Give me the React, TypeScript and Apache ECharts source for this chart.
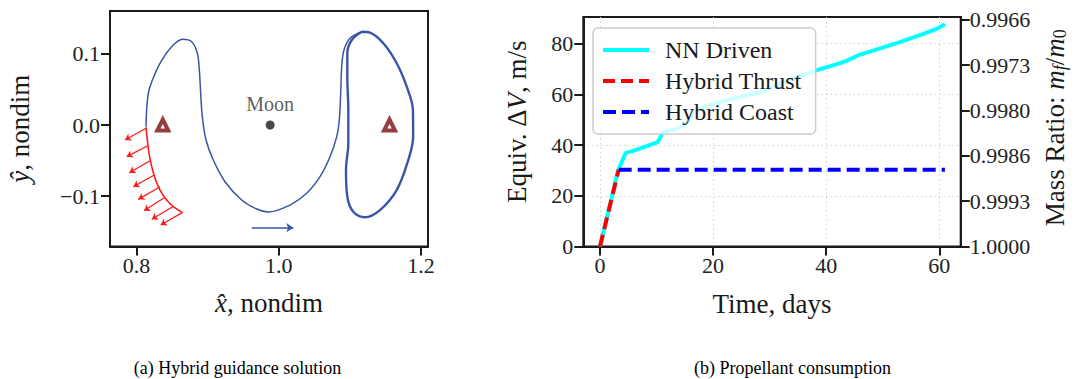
import React, { useEffect, useRef } from 'react';
import * as echarts from 'echarts';

const FONT = 'Liberation Serif';
const INK = '#1a1a1a';
const ORBIT = '#3a55a6';

// ---------- Panel (a): hybrid guidance solution (nondimensional) ----------
const transferX = [0.8134, 0.8143, 0.8166, 0.8214, 0.8330, 0.8495, 0.8649, 0.8776, 0.8855, 0.8883, 0.8902, 0.8925, 0.8977, 0.9079, 0.9244, 0.9479, 0.9689, 0.9852, 1.0157, 1.0392, 1.0579, 1.0720, 1.0814, 1.0850, 1.0870, 1.0884, 1.0916, 1.1001, 1.1165];
const transferY = [-0.0024, 0.0211, 0.0445, 0.0608, 0.0867, 0.1100, 0.1204, 0.1170, 0.1007, 0.0772, 0.0445, 0.0117, -0.0211, -0.0492, -0.0796, -0.1053, -0.1180, -0.1222, -0.1124, -0.0959, -0.0726, -0.0445, -0.0164, 0.0070, 0.0445, 0.0819, 0.1053, 0.1218, 0.1310];
const loopX = [1.1165, 1.1282, 1.1469, 1.1657, 1.1798, 1.1885, 1.1888, 1.1805, 1.1657, 1.1422, 1.1211, 1.1047, 1.0963, 1.0944, 1.0977, 1.0977, 1.0963, 1.0963, 1.1025, 1.1165];
const loopY = [0.1310, 0.1296, 0.1147, 0.0867, 0.0538, 0.0211, -0.0164, -0.0538, -0.0913, -0.1194, -0.1296, -0.1218, -0.1007, -0.0632, -0.0257, 0.0211, 0.0678, 0.1007, 0.1194, 0.1310];
const thrustArcX = [0.8134, 0.8152, 0.8176, 0.8214, 0.8260, 0.8330, 0.8424, 0.8517, 0.8640];
const thrustArcY = [-0.0033, -0.0211, -0.0398, -0.0585, -0.0749, -0.0913, -0.1053, -0.1147, -0.1226];
const arrowTailX = [0.8134, 0.8152, 0.8190, 0.8250, 0.8330, 0.8401, 0.8509, 0.8649];
const arrowTailY = [-0.0046, -0.0295, -0.0501, -0.0702, -0.0867, -0.1015, -0.1147, -0.1226];
const arrowHeadX = [0.7838, 0.7862, 0.7899, 0.7955, 0.8025, 0.8105, 0.8214, 0.8340];
const arrowHeadY = [-0.0211, -0.0445, -0.0670, -0.0867, -0.1044, -0.1204, -0.1324, -0.1404];
const lagrangeX = [0.8369, 1.1556];
const lagrangeY = [0, 0];
const moonX = 0.98785;
const moonY = 0;
const dirArrowX = [0.9619, 1.0204];
const dirArrowY = [-0.1442, -0.1442];
const leftXTicks = [0.8, 1.0, 1.2];
const leftYTicks = [-0.1, 0, 0.1];
const leftYLabels = ['\u22120.1', '0.0', '0.1'];

// ---------- Panel (b): propellant consumption ----------
const nnTime = [0, 3.2, 4.5, 6.4, 10.2, 11.2, 13.5, 15.3, 16.4, 18.3, 23, 28.3, 33, 38, 41.8, 43.6, 45.9, 51.2, 53, 57.7, 59.5, 61];
const nnDv = [0, 30, 36.8, 38.1, 41.2, 45.2, 46.3, 48.5, 52.3, 55.0, 58, 60.8, 65.3, 69.3, 71.8, 73.2, 75.6, 79.3, 80.6, 84.2, 85.8, 87.6];
const thrustTime = [0, 3.3];
const thrustDv = [0, 30.3];
const coastTime = [3.3, 61];
const coastDv = [30.3, 30.3];
const timeTicks = [0, 20, 40, 60];
const dvTicks = [0, 20, 40, 60, 80];
const massRatioLabels = ['1.0000', '0.9993', '0.9986', '0.9980', '0.9973', '0.9966'];
const massRatioTickDv = [0, 17.87, 35.74, 53.61, 71.48, 89.35];

const zip = (xs: number[], ys: number[]) => xs.map((x, i) => [x, ys[i]]);

const tickLabel = { fontFamily: FONT, fontSize: 22, color: '#222' };
const nameStyle = (extra: any = {}) => ({
  fontFamily: FONT,
  fontSize: 27,
  color: INK,
  rich: {
    i: { fontFamily: FONT, fontSize: 27, fontStyle: 'italic', color: INK },
    sub: { fontFamily: FONT, fontSize: 18, fontStyle: 'italic', color: INK, verticalAlign: 'bottom' },
    sub0: { fontFamily: FONT, fontSize: 18, color: INK, verticalAlign: 'bottom' },
  },
  ...extra,
});
const axisLine = { show: true, onZero: false, lineStyle: { color: INK, width: 2 } };
const tick = (vals: number[]) => ({ show: true, length: 9, inside: false, customValues: vals, lineStyle: { color: INK, width: 2 } });
const dotted = { show: true, lineStyle: { type: [1.5, 3], color: '#cfcfcf', width: 1 } };

function buildOption(): any {
  return {
    animation: false,
    textStyle: { fontFamily: FONT },
    grid: [
      { left: 110, top: 11, width: 318, height: 235.5, show: true, borderColor: INK, borderWidth: 2, backgroundColor: 'transparent', containLabel: false, outerBoundsMode: 'none' },
      { left: 583.3, top: 17, width: 377.4, height: 229.5, show: true, borderColor: INK, borderWidth: 2, backgroundColor: 'transparent', containLabel: false, outerBoundsMode: 'none' },
    ],
    xAxis: [
      {
        type: 'value', gridIndex: 0, min: 0.76275, max: 1.20969,
        axisLine, axisTick: tick(leftXTicks),
        axisLabel: { ...tickLabel, margin: 8, customValues: leftXTicks, formatter: (v: number) => v.toFixed(1) },
        splitLine: { show: false },
        name: '{i|x\u0302}, nondim', nameLocation: 'middle', nameGap: 43, nameTextStyle: nameStyle(),
      },
      {
        type: 'value', gridIndex: 1, min: -2.953, max: 63.79,
        axisLine, axisTick: tick(timeTicks),
        axisLabel: { ...tickLabel, margin: 8, customValues: timeTicks, formatter: (v: number) => String(v) },
        splitLine: dotted,
        name: 'Time, days', nameLocation: 'middle', nameGap: 44, nameTextStyle: nameStyle(),
      },
    ],
    yAxis: [
      {
        type: 'value', gridIndex: 0, min: -0.1706, max: 0.1601,
        axisLine, axisTick: tick(leftYTicks),
        axisLabel: {
          ...tickLabel, margin: 10, customValues: leftYTicks,
          formatter: (v: number) => leftYLabels[leftYTicks.findIndex((t) => Math.abs(t - v) < 1e-6)] ?? '',
        },
        splitLine: { show: false },
        name: '{i|y\u0302}, nondim', nameLocation: 'middle', nameGap: 77, nameRotate: 90, nameTextStyle: nameStyle(),
      },
      {
        type: 'value', gridIndex: 1, min: 0, max: 90.5,
        axisLine, axisTick: tick(dvTicks),
        axisLabel: { ...tickLabel, margin: 10, customValues: dvTicks, formatter: (v: number) => String(v) },
        splitLine: dotted,
        name: 'Equiv. \u0394{i|V}, m/s', nameLocation: 'middle', nameGap: 53, nameRotate: 90,
        nameTextStyle: nameStyle({ padding: [0, 0, 0, 20] }),
      },
      {
        type: 'value', gridIndex: 1, position: 'right', min: 0, max: 90.5,
        axisLine, axisTick: tick(massRatioTickDv),
        axisLabel: {
          ...tickLabel, margin: 9, customValues: massRatioTickDv,
          formatter: (v: number) => {
            let best = 0;
            massRatioTickDv.forEach((d, i) => { if (Math.abs(d - v) < Math.abs(massRatioTickDv[best] - v)) best = i; });
            return massRatioLabels[best];
          },
        },
        splitLine: { show: false },
        name: 'Mass Ratio: {i|m}{sub|f}/{i|m}{sub0|0}', nameLocation: 'middle', nameGap: 81, nameRotate: 90,
        nameTextStyle: nameStyle({ padding: [0, 0, 0, 8] }),
      },
    ],
    legend: {
      data: ['NN Driven', 'Hybrid Thrust', 'Hybrid Coast'],
      orient: 'vertical', left: 593, top: 28,
      itemWidth: 46, itemHeight: 14, itemGap: 7,
      padding: [10, 14, 10, 8],
      backgroundColor: 'rgba(255,255,255,0.8)', borderColor: '#cccccc', borderWidth: 1.5, borderRadius: 5,
      itemStyle: { opacity: 0 },
      lineStyle: { width: 4 },
      textStyle: { fontFamily: FONT, fontSize: 24, color: INK, lineHeight: 23, padding: [0, 0, 0, 11] },
    },
    series: [
      // Panel (a)
      {
        type: 'line', xAxisIndex: 0, yAxisIndex: 0, data: zip(transferX, transferY),
        smooth: 0.35, symbol: 'none', lineStyle: { color: ORBIT, width: 1.5 }, z: 3,
      },
      {
        type: 'line', xAxisIndex: 0, yAxisIndex: 0, data: zip(loopX, loopY),
        smooth: 0.35, symbol: 'none', lineStyle: { color: ORBIT, width: 2.4 }, z: 3,
      },
      {
        type: 'line', xAxisIndex: 0, yAxisIndex: 0, data: zip(thrustArcX, thrustArcY),
        smooth: 0.35, symbol: 'none', lineStyle: { color: '#ff1a1a', width: 1.6 }, z: 4,
      },
      {
        type: 'lines', coordinateSystem: 'cartesian2d', xAxisIndex: 0, yAxisIndex: 0,
        symbol: ['none', 'arrow'], symbolSize: 6,
        lineStyle: { color: '#ff1a1a', width: 1.3, opacity: 1, curveness: 0 },
        data: arrowTailX.map((x, i) => ({ coords: [[x, arrowTailY[i]], [arrowHeadX[i], arrowHeadY[i]]] })),
        z: 4,
      },
      {
        type: 'lines', coordinateSystem: 'cartesian2d', xAxisIndex: 0, yAxisIndex: 0,
        symbol: ['none', 'arrow'], symbolSize: 7,
        lineStyle: { color: ORBIT, width: 1.6, opacity: 1, curveness: 0 },
        data: [{ coords: [[dirArrowX[0], dirArrowY[0]], [dirArrowX[1], dirArrowY[1]]] }],
        z: 4,
      },
      {
        type: 'scatter', xAxisIndex: 0, yAxisIndex: 0, data: zip(lagrangeX, lagrangeY),
        symbol: 'triangle', symbolSize: 11,
        itemStyle: { color: '#ffffff', borderColor: '#7c0d0d', borderWidth: 4 }, z: 5,
      },
      {
        type: 'scatter', xAxisIndex: 0, yAxisIndex: 0, data: [[moonX, moonY]],
        symbol: 'circle', symbolSize: 9, itemStyle: { color: INK },
        label: { show: true, position: 'top', distance: 7, formatter: 'Moon', fontFamily: FONT, fontSize: 20, color: '#333' },
        z: 5,
      },
      // Panel (b)
      {
        name: 'NN Driven', type: 'line', xAxisIndex: 1, yAxisIndex: 1, data: zip(nnTime, nnDv),
        symbol: 'none', lineStyle: { color: '#00ffff', width: 4 }, itemStyle: { color: '#00ffff' }, z: 2,
      },
      {
        name: 'Hybrid Thrust', type: 'line', xAxisIndex: 1, yAxisIndex: 1, data: zip(thrustTime, thrustDv),
        symbol: 'none', lineStyle: { color: '#ff0000', width: 4, type: [12, 6] }, itemStyle: { color: '#ff0000' }, z: 3,
      },
      {
        name: 'Hybrid Coast', type: 'line', xAxisIndex: 1, yAxisIndex: 1, data: zip(coastTime, coastDv),
        symbol: 'none', lineStyle: { color: '#0000ff', width: 4, type: [13, 6] }, itemStyle: { color: '#0000ff' }, z: 3,
      },
    ],
    graphic: [
      { type: 'text', x: 237.5, y: 368, style: { text: '(a) Hybrid guidance solution', fill: '#000', fontFamily: FONT, fontSize: 18, align: 'center', verticalAlign: 'middle' } },
      { type: 'text', x: 792.5, y: 368, style: { text: '(b) Propellant consumption', fill: '#000', fontFamily: FONT, fontSize: 18, align: 'center', verticalAlign: 'middle' } },
    ],
  };
}

export default function App() {
  const ref = useRef<HTMLDivElement>(null);
  useEffect(() => {
    document.body.style.margin = '0';
    const chart = echarts.init(ref.current as HTMLDivElement, null, { renderer: 'svg' });
    chart.setOption(buildOption());
    return () => chart.dispose();
  }, []);
  return <div ref={ref} style={{ width: 1081, height: 379, position: 'absolute', left: 0, top: 0 }} />;
}
